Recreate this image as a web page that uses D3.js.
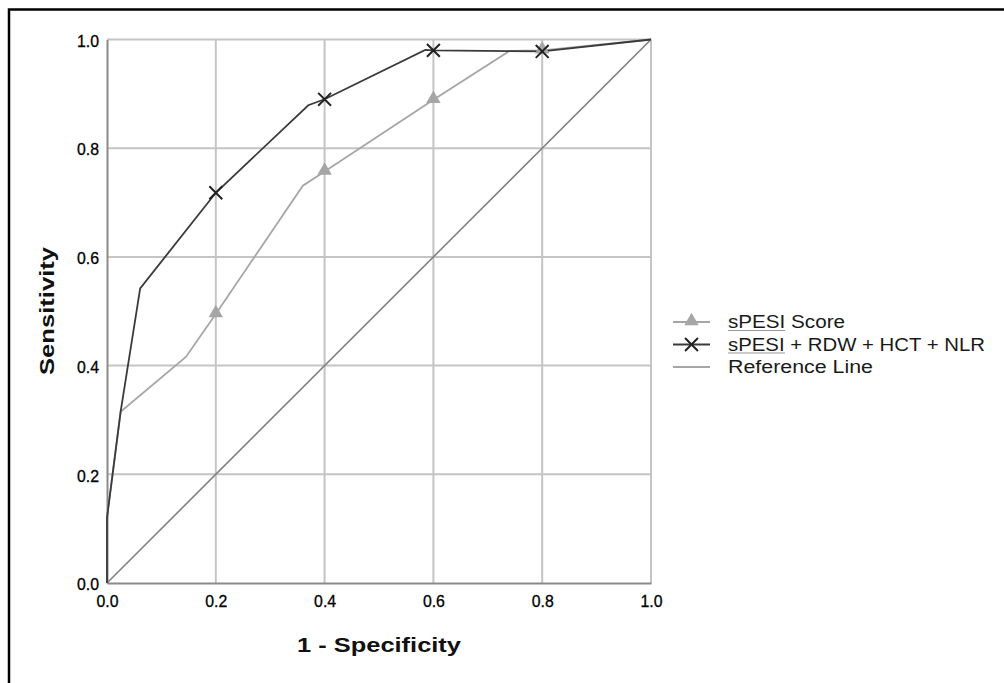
<!DOCTYPE html>
<html>
<head>
<meta charset="utf-8">
<script src="https://cdn.jsdelivr.net/npm/d3@7"></script>
<style>
  body { margin: 0; background: #fff; }
  text { font-family: "Liberation Sans", Arial, sans-serif; }
</style>
</head>
<body>
<script>
// ROC curve points (1 - specificity, sensitivity)
var spesiX = [0, 0, 0.025, 0.145, 0.2, 0.36, 0.4, 0.6, 0.74, 0.8, 1];
var spesiY = [0, 0.12, 0.315, 0.416, 0.495, 0.731, 0.757, 0.889, 0.979, 0.98, 1];
var spesiMarks = [0.2, 0.4, 0.6, 0.8];

var comboX = [0, 0, 0.025, 0.061, 0.2, 0.37, 0.4, 0.585, 0.6, 0.8, 1];
var comboY = [0, 0.12, 0.315, 0.542, 0.718, 0.879, 0.89, 0.981, 0.98, 0.978, 1];
var comboMarks = [0.2, 0.4, 0.6, 0.8];

var tickVals = [0, 0.2, 0.4, 0.6, 0.8, 1.0];
var legendLabels = ["sPESI Score", "sPESI + RDW + HCT + NLR", "Reference Line"];

var svgWidth = 1004;
var svgHeight = 683;
var margin = { top: 39.5, right: 353, bottom: 100, left: 107 };
var w = svgWidth - margin.left - margin.right;
var h = svgHeight - margin.top - margin.bottom;

var svg = d3.select("body").append("svg")
            .attr("width", svgWidth)
            .attr("height", svgHeight);

// frame
svg.append("rect")
   .attr("x", 9).attr("y", 9.5)
   .attr("width", 1010).attr("height", 700)
   .attr("fill", "none")
   .attr("stroke", "#000")
   .attr("stroke-width", 2.5);

var g = svg.append("g")
           .attr("transform", `translate(${margin.left},${margin.top})`);

var xscale = d3.scaleLinear().domain([0, 1]).range([0, w]);
var yscale = d3.scaleLinear().domain([0, 1]).range([h, 0]);

// grid
g.selectAll(".vgrid").data(tickVals.slice(1)).enter()
 .append("line")
 .attr("x1", d => xscale(d)).attr("x2", d => xscale(d))
 .attr("y1", 0).attr("y2", h)
 .attr("stroke", "#c4c4c4").attr("stroke-width", 2);
g.selectAll(".hgrid").data(tickVals.slice(1)).enter()
 .append("line")
 .attr("x1", 0).attr("x2", w)
 .attr("y1", d => yscale(d)).attr("y2", d => yscale(d))
 .attr("stroke", "#c4c4c4").attr("stroke-width", 2);

// axes
var xaxis = d3.axisBottom(xscale).tickValues(tickVals).tickSize(0).tickPadding(13)
              .tickFormat(d3.format(".1f"));
var xg = g.append("g").attr("transform", `translate(0,${h})`).call(xaxis);
var yaxis = d3.axisLeft(yscale).tickValues(tickVals).tickSize(0).tickPadding(8)
              .tickFormat(d3.format(".1f"));
var yg = g.append("g").call(yaxis);
[xg, yg].forEach(function(a) {
  a.attr("font-size", 16).attr("font-family", "Liberation Sans, Arial, sans-serif");
  a.select(".domain").attr("stroke", "#8a8a8a").attr("stroke-width", 2);
  a.selectAll("text").attr("fill", "#000").attr("stroke", "#000").attr("stroke-width", 0.3)
   .attr("textLength", 22).attr("lengthAdjust", "spacingAndGlyphs");
});
yg.selectAll(".tick text").attr("dy", "0.42em");

// reference line
g.append("line")
 .attr("x1", xscale(0)).attr("y1", yscale(0))
 .attr("x2", xscale(1)).attr("y2", yscale(1))
 .attr("stroke", "#808080").attr("stroke-width", 1.6);

var line = d3.line().x(d => xscale(d[0])).y(d => yscale(d[1]));

var spesi = d3.zip(spesiX, spesiY);
var combo = d3.zip(comboX, comboY);

g.append("path").datum(spesi).attr("d", line)
 .attr("fill", "none").attr("stroke", "#a6a6a6").attr("stroke-width", 1.8);
g.append("path").datum(combo).attr("d", line)
 .attr("fill", "none").attr("stroke", "#3a3a3a").attr("stroke-width", 1.8);

var tri = d3.symbol().type(d3.symbolTriangle).size(90);
var cross = d3.symbol().type(d3.symbolX).size(110);

g.selectAll(".tri").data(spesi.filter(d => spesiMarks.includes(d[0]))).enter()
 .append("path")
 .attr("d", tri)
 .attr("transform", d => `translate(${xscale(d[0])},${yscale(d[1]) - 1})`)
 .attr("fill", "#a6a6a6");
g.selectAll(".crs").data(combo.filter(d => comboMarks.includes(d[0]))).enter()
 .append("path")
 .attr("d", cross)
 .attr("transform", d => `translate(${xscale(d[0])},${yscale(d[1])})`)
 .attr("fill", "none").attr("stroke", "#222").attr("stroke-width", 2);

// axis titles
svg.append("text")
   .attr("x", 379).attr("y", 652)
   .attr("text-anchor", "middle")
   .attr("font-size", "21px").attr("font-weight", "bold").attr("fill", "#111")
   .attr("textLength", 164).attr("lengthAdjust", "spacingAndGlyphs")
   .text("1 - Specificity");
svg.append("text")
   .attr("transform", `translate(54,311) rotate(-90)`)
   .attr("text-anchor", "middle")
   .attr("font-size", "21px").attr("font-weight", "bold").attr("fill", "#111")
   .attr("textLength", 128).attr("lengthAdjust", "spacingAndGlyphs")
   .text("Sensitivity");

// legend
var legend = svg.append("g").attr("transform", "translate(673,322)");
var rowH = 22.5;
var legColors = ["#a6a6a6", "#3a3a3a", "#a6a6a6"];
var legWidths = [117, 257, 145];
legendLabels.forEach(function(lab, i) {
  var y = i * rowH;
  legend.append("line").attr("x1", 0).attr("x2", 37).attr("y1", y).attr("y2", y)
        .attr("stroke", legColors[i]).attr("stroke-width", 2);
  if (i === 0) {
    legend.append("path").attr("d", tri).attr("transform", `translate(18.5,${y - 1})`)
          .attr("fill", "#a6a6a6");
  }
  if (i === 1) {
    legend.append("path").attr("d", cross).attr("transform", `translate(18.5,${y})`)
          .attr("fill", "none").attr("stroke", "#222").attr("stroke-width", 2);
  }
  legend.append("text").attr("x", 55).attr("y", y).attr("dy", "0.36em")
        .attr("font-size", "18px").attr("fill", "#1a1a1a")
        .attr("textLength", legWidths[i]).attr("lengthAdjust", "spacingAndGlyphs")
        .text(lab);
  if (i < 2) {
    legend.append("line").attr("x1", 55).attr("x2", 112).attr("y1", y + 8.5).attr("y2", y + 8.5)
          .attr("stroke", "#999").attr("stroke-width", 1);
  }
});
</script>
</body>
</html>
